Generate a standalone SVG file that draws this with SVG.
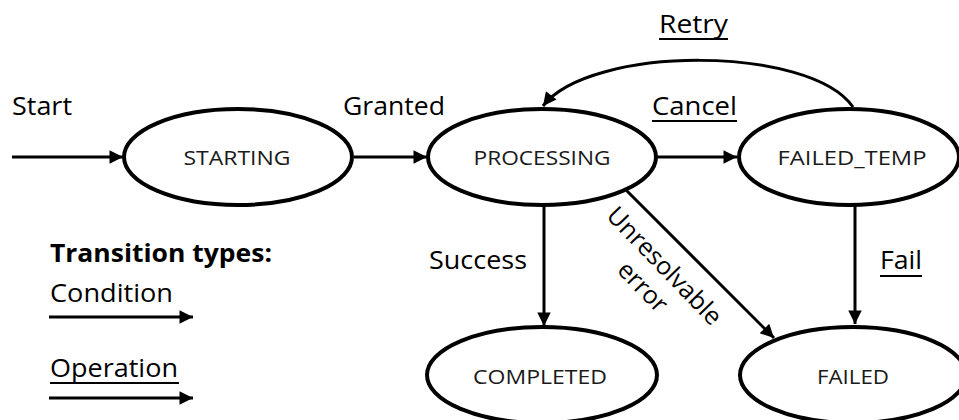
<svg xmlns="http://www.w3.org/2000/svg" width="959" height="420" viewBox="0 0 959 420">
<style>
.node{fill:#fff;stroke:#000;stroke-width:4}
.nt{font-family:"Open Sans","Liberation Sans",sans-serif;font-size:20px;fill:#1a1a1a;text-anchor:middle}
.lbl{font-family:"Open Sans","Liberation Sans",sans-serif;font-size:25px;fill:#000}
.edge{fill:none;stroke:#000;stroke-width:3}
.ul{stroke:#000;stroke-width:2}
</style>
<defs>
<marker id="ah" viewBox="0 0 10 10" refX="10" refY="5" markerWidth="5" markerHeight="4.5" markerUnits="strokeWidth" orient="auto">
<path d="M0,0 L10,5 L0,10 Z" fill="#000"/>
</marker>
</defs>
<g id="connectors">
<line class="edge" x1="12" y1="157" x2="123" y2="157" marker-end="url(#ah)"/>
<line class="edge" x1="354" y1="157" x2="427" y2="157" marker-end="url(#ah)"/>
<line class="edge" x1="657" y1="157" x2="737" y2="157" marker-end="url(#ah)"/>
<path class="edge" d="M853,107 C810,45 590,45 543,106" marker-end="url(#ah)"/>
<line class="edge" x1="544" y1="205" x2="544" y2="326" marker-end="url(#ah)"/>
<line class="edge" x1="625" y1="189" x2="774" y2="338" marker-end="url(#ah)"/>
<line class="edge" x1="855" y1="205" x2="855" y2="324" marker-end="url(#ah)"/>
</g>
<g id="STARTING"><ellipse class="node" cx="238" cy="157" rx="114" ry="48"/><text class="nt" x="237" y="165" textLength="107" lengthAdjust="spacingAndGlyphs">STARTING</text></g>
<g id="PROCESSING"><ellipse class="node" cx="542" cy="157" rx="114" ry="48"/><text class="nt" x="542" y="165" textLength="137" lengthAdjust="spacingAndGlyphs">PROCESSING</text></g>
<g id="FAILED_TEMP"><ellipse class="node" cx="849" cy="157" rx="110" ry="48"/><text class="nt" x="852" y="165" textLength="149" lengthAdjust="spacingAndGlyphs">FAILED_TEMP</text></g>
<g id="COMPLETED"><ellipse class="node" cx="542" cy="375" rx="115" ry="48"/><text class="nt" x="540" y="384" textLength="134" lengthAdjust="spacingAndGlyphs">COMPLETED</text></g>
<g id="FAILED"><ellipse class="node" cx="853" cy="375" rx="113" ry="48"/><text class="nt" x="853" y="384" textLength="72" lengthAdjust="spacingAndGlyphs">FAILED</text></g>
<g id="labels">
<text class="lbl" x="12" y="115" textLength="60" lengthAdjust="spacingAndGlyphs">Start</text>
<text class="lbl" x="343" y="115" textLength="102" lengthAdjust="spacingAndGlyphs">Granted</text>
<text class="lbl" x="659" y="33" textLength="69" lengthAdjust="spacingAndGlyphs">Retry</text>
<line class="ul" x1="659" y1="39" x2="728" y2="39"/>
<text class="lbl" x="652" y="115" textLength="85" lengthAdjust="spacingAndGlyphs">Cancel</text>
<line class="ul" x1="652" y1="121" x2="737" y2="121"/>
<text class="lbl" x="429" y="269" textLength="98" lengthAdjust="spacingAndGlyphs">Success</text>
<text class="lbl" x="880" y="269" textLength="42" lengthAdjust="spacingAndGlyphs">Fail</text>
<line class="ul" x1="880" y1="276" x2="922" y2="276"/>
<g transform="translate(654,276) rotate(46)">
<text class="lbl" x="0" y="-6" text-anchor="middle">Unresolvable</text>
<text class="lbl" x="0" y="24" text-anchor="middle">error</text>
</g>
</g>
<g id="legend">
<text class="lbl" x="50" y="262" font-weight="bold" textLength="222" lengthAdjust="spacingAndGlyphs">Transition types:</text>
<text class="lbl" x="50" y="302" textLength="123" lengthAdjust="spacingAndGlyphs">Condition</text>
<line class="edge" x1="49" y1="317" x2="193" y2="317" marker-end="url(#ah)"/>
<text class="lbl" x="50" y="377" textLength="128" lengthAdjust="spacingAndGlyphs">Operation</text>
<line class="ul" x1="50" y1="383" x2="179" y2="383"/>
<line class="edge" x1="49" y1="398" x2="193" y2="398" marker-end="url(#ah)"/>
</g>
</svg>
